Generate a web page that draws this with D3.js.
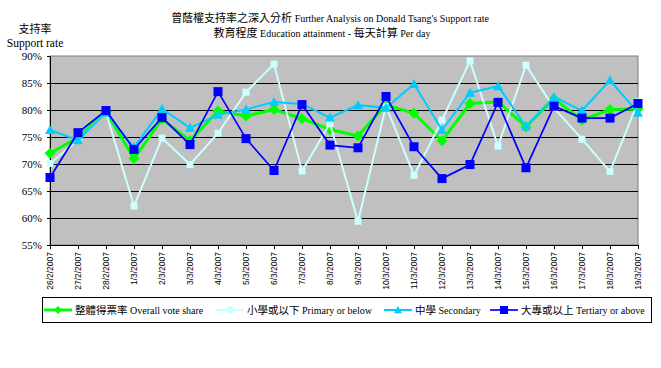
<!DOCTYPE html>
<html>
<head>
<meta charset="utf-8">
<script src="https://cdn.jsdelivr.net/npm/d3@7"></script>
<style>
  body { margin: 0; background: #fff; }
  svg text { font-family: "Liberation Serif", "Noto Sans CJK TC", serif; fill: #000; }
</style>
</head>
<body>
<div class="chart"></div>
<script>
// chart data
var categories = ["26/2/2007","27/2/2007","28/2/2007","1/3/2007","2/3/2007","3/3/2007","4/3/2007",
  "5/3/2007","6/3/2007","7/3/2007","8/3/2007","9/3/2007","10/3/2007","11/3/2007","12/3/2007",
  "13/3/2007","14/3/2007","15/3/2007","16/3/2007","17/3/2007","18/3/2007","19/3/2007"];
var overall   = [72.0,74.9,79.7,71.0,78.3,74.3,79.8,78.9,80.1,78.4,76.4,75.2,81.0,79.4,74.3,81.2,81.5,76.9,82.1,78.1,80.1,80.2];
var primary   = [70.1,74.4,79.5,62.2,74.8,69.9,75.7,83.3,88.5,68.7,77.5,59.4,80.7,67.9,78.1,89.1,73.3,88.3,80.4,74.6,68.6,81.5];
var secondary = [76.3,74.4,79.5,73.1,80.2,76.7,79.1,80.1,81.5,81.1,78.6,80.9,80.4,84.8,76.3,83.2,84.4,77.0,82.4,79.9,85.5,79.5];
var tertiary  = [67.5,75.8,79.9,72.7,78.6,73.6,83.4,74.7,68.8,81.0,73.5,73.0,82.5,73.2,67.3,69.9,81.4,69.3,80.7,78.5,78.5,81.2];
var yTicks = [55,60,65,70,75,80,85,90];
var seriesNames = ["整體得票率 Overall vote share","小學或以下 Primary or below","中學 Secondary","大專或以上 Tertiary or above"];

(function() {
  var w = 661, h = 368;
  var pLeft = 50, pRight = 638, pTop = 56, pBottom = 245;

  var svg = d3.select(".chart").append("svg")
    .attr("width", w).attr("height", h);

  var x = d3.scalePoint().domain(categories).range([pLeft, pRight]);
  var y = d3.scaleLinear().domain([55, 90]).range([pBottom, pTop]);

  // plot area
  svg.append("rect")
    .attr("x", pLeft).attr("y", pTop)
    .attr("width", pRight - pLeft).attr("height", pBottom - pTop)
    .attr("fill", "#c0c0c0").attr("stroke", "#808080");

  svg.append("g").selectAll("line")
    .data(yTicks.filter(function(d){ return d > 55 && d < 90; }))
    .enter().append("line")
    .attr("x1", pLeft).attr("x2", pRight)
    .attr("y1", function(d){ return Math.round(y(d)) + 0.5; })
    .attr("y2", function(d){ return Math.round(y(d)) + 0.5; })
    .attr("stroke", "#000").attr("stroke-width", 1);

  // axes
  var yAxis = d3.axisLeft(y).tickValues(yTicks).tickSize(3)
    .tickFormat(function(d){ return d + "%"; });
  var gy = svg.append("g").attr("transform", "translate(" + pLeft + ",0)").call(yAxis);
  gy.select(".domain").attr("stroke", "#000");
  gy.selectAll("text").attr("font-size", 11).attr("x", -8)
    .style("font-family", "'Liberation Serif', serif");

  var xAxis = d3.axisBottom(x).tickSize(4).tickSizeOuter(0);
  var gx = svg.append("g").attr("transform", "translate(0," + pBottom + ")").call(xAxis);
  gx.select(".domain").attr("stroke", "#000");
  gx.selectAll("text")
    .attr("transform", "rotate(-90)")
    .attr("x", -7).attr("y", 0).attr("dy", "0.32em")
    .attr("text-anchor", "end")
    .attr("font-size", 8.5)
    .style("font-family", "'Liberation Sans', sans-serif");

  // series
  var series = [
    { name: seriesNames[0], values: overall,   color: "#00ff00", width: 3,   marker: "diamond",  size: 11 },
    { name: seriesNames[1], values: primary,   color: "#ccffff", width: 2,   marker: "square",   size: 7 },
    { name: seriesNames[2], values: secondary, color: "#00ccff", width: 2,   marker: "triangle", size: 10 },
    { name: seriesNames[3], values: tertiary,  color: "#0000ff", width: 1.7, marker: "square",   size: 9 }
  ];

  function markerPath(type, s) {
    var r = s / 2;
    if (type == "diamond") return "M0," + (-r) + "L" + r + ",0L0," + r + "L" + (-r) + ",0Z";
    if (type == "triangle") return "M0," + (-r) + "L" + r + "," + (r * 0.8) + "L" + (-r) + "," + (r * 0.8) + "Z";
    return "M" + (-r) + "," + (-r) + "h" + s + "v" + s + "h" + (-s) + "Z";
  }

  var line = d3.line()
    .x(function(d, i){ return x(categories[i]); })
    .y(function(d){ return y(d); });

  series.forEach(function(s) {
    var g = svg.append("g");
    g.append("path").datum(s.values)
      .attr("d", line).attr("fill", "none")
      .attr("stroke", s.color).attr("stroke-width", s.width);
    g.selectAll("path.m").data(s.values).enter().append("path")
      .attr("class", "m")
      .attr("transform", function(d, i){ return "translate(" + x(categories[i]) + "," + y(d) + ")"; })
      .attr("d", markerPath(s.marker, s.size))
      .attr("fill", s.color);
  });

  // titles
  var t1 = svg.append("text").attr("x", 330).attr("y", 22).attr("text-anchor", "middle");
  t1.append("tspan").attr("font-size", 11).style("font-family", "'Noto Sans CJK TC'").text("曾蔭權支持率之深入分析");
  t1.append("tspan").attr("font-size", 10).text(" Further Analysis on Donald Tsang's Support rate");
  var t2 = svg.append("text").attr("x", 322).attr("y", 37).attr("text-anchor", "middle");
  t2.append("tspan").attr("font-size", 11).style("font-family", "'Noto Sans CJK TC'").text("教育程度");
  t2.append("tspan").attr("font-size", 10).text(" Education attainment - ");
  t2.append("tspan").attr("font-size", 11).style("font-family", "'Noto Sans CJK TC'").text("每天計算");
  t2.append("tspan").attr("font-size", 10).text(" Per day");

  svg.append("text").attr("x", 35).attr("y", 33).attr("text-anchor", "middle")
    .attr("font-size", 11).style("font-family", "'Noto Sans CJK TC'").text("支持率");
  svg.append("text").attr("x", 35).attr("y", 47).attr("text-anchor", "middle")
    .attr("font-size", 11.5).text("Support rate");

  // legend
  var legend = svg.append("g");
  legend.append("rect").attr("x", 42.5).attr("y", 297.5).attr("width", 609).attr("height", 25)
    .attr("fill", "#fff").attr("stroke", "#000");
  var legendX = [44, 216, 384, 490];
  series.forEach(function(s, i) {
    var lx = legendX[i], ly = 310;
    legend.append("line").attr("x1", lx).attr("x2", lx + 28).attr("y1", ly).attr("y2", ly)
      .attr("stroke", s.color).attr("stroke-width", s.width);
    legend.append("path").attr("transform", "translate(" + (lx + 14) + "," + ly + ")")
      .attr("d", markerPath(s.marker, Math.min(s.size, 8))).attr("fill", s.color);
    var parts = s.name.split(" ");
    var txt = legend.append("text").attr("x", lx + 31).attr("y", ly + 4);
    txt.append("tspan").attr("font-size", 10.5).style("font-family", "'Noto Sans CJK TC'").text(parts[0]);
    txt.append("tspan").attr("font-size", 10).text(" " + parts.slice(1).join(" "));
  });
})();
</script>
</body>
</html>
